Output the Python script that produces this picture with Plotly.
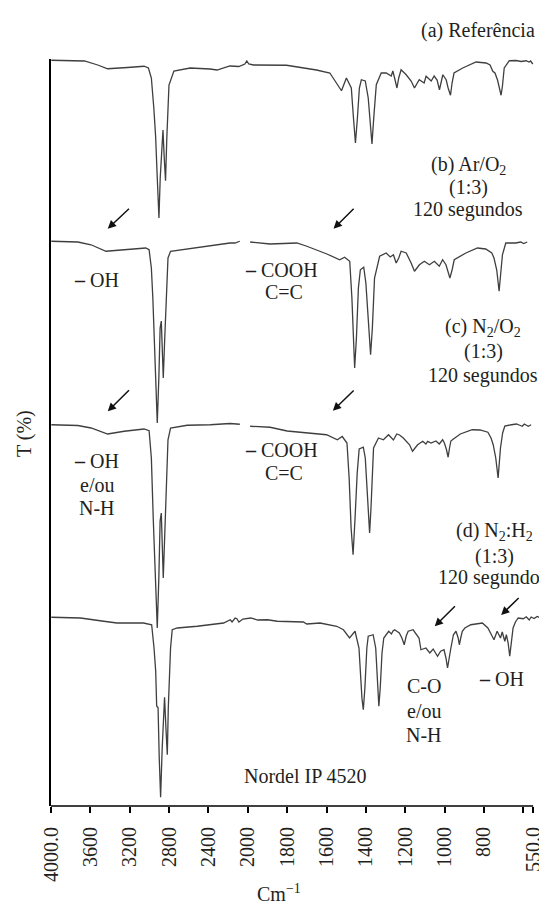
import plotly.graph_objects as go

# ---------------- data (wavenumber in cm-1, transmittance in arbitrary %) ----------------
wn_a = [3997, 3660, 3525, 3424, 3222, 3054, 3010, 2980, 2955, 2937,
        2920, 2903, 2890, 2862, 2849, 2836, 2823, 2813, 2801, 2751,
        2586, 2384, 2313, 2182, 2091, 2030, 2010, 1995, 1971, 1803,
        1735, 1651, 1583, 1549, 1524, 1499, 1474, 1463, 1453, 1443,
        1433, 1423, 1403, 1388, 1378, 1369, 1360, 1347, 1322, 1297,
        1271, 1263, 1254, 1242, 1233, 1221, 1195, 1170, 1153, 1129,
        1104, 1094, 1068, 1053, 1038, 1026, 1009, 992, 982, 970,
        962, 952, 908, 840, 789, 769, 755, 744, 731, 723,
        713, 706, 697, 671, 637, 611, 586, 571, 563, 552]
t_a = [100, 99.7, 98.1, 96.6, 97.1, 97.6, 96.9, 92.9, 80.9, 69.7,
       52.9, 36.9, 52.9, 72.1, 60.9, 51.8, 68.9, 82.9, 90.1, 95.7,
       96.9, 96.5, 96.1, 97.7, 97.5, 98.5, 99.7, 98.5, 98.1, 98,
       97.2, 96.1, 94.9, 90.9, 87.8, 92.9, 88.9, 76.9, 66.9, 76.9,
       88.9, 92.2, 91.7, 84.9, 72.9, 66.5, 76.9, 90.2, 94.9, 94.9,
       93.7, 95.7, 92.9, 88.9, 92.9, 96.2, 94.2, 91.7, 88.9, 92.2,
       90.9, 93.6, 91.7, 93.7, 92.1, 88.2, 94.2, 92.2, 88.9, 86,
       90.9, 94.9, 96.9, 99.3, 98.9, 98.1, 95.6, 94.9, 92.1, 88.9,
       86, 89.7, 96.9, 99.8, 99.9, 99.5, 99.8, 99.3, 99.7, 98.5]

wn_b = [3997, 3727, 3593, 3441, 3256, 3037, 3003, 2980, 2965, 2953,
        2937, 2920, 2904, 2891, 2879, 2869, 2859, 2844, 2829, 2811,
        2785, 2616, 2381, 2246, 2182, 2131, 2081, 2035, 1988, 1887,
        1751, 1700, 1598, 1533, 1508, 1482, 1471, 1463, 1457, 1448,
        1438, 1428, 1411, 1400, 1390, 1376, 1367, 1356, 1330, 1297,
        1276, 1260, 1246, 1233, 1221, 1195, 1170, 1153, 1128, 1103,
        1077, 1052, 1027, 1010, 993, 973, 962, 951, 892, 833,
        791, 760, 749, 735, 723, 715, 706, 689, 639, 613,
        598, 580]
t_b = [100, 99.7, 98.6, 96, 96.6, 97.3, 96.6, 89.3, 77.3, 64.1,
       45.3, 27.3, 45.3, 65.3, 68.1, 57.3, 45.3, 61.3, 77.3, 93.3,
       96, 97, 98.4, 98.9, 99.3, 99.3, 100, None, 99.7, 98.9,
       99.3, 98, 94.9, 92.6, 93.6, 92, 77.3, 61.3, 49.3, 61.3,
       81.3, 88.6, 89.6, 83.3, 69.3, 54.6, 65.3, 85.3, 94, 95.3,
       93.7, 94.6, 91.3, 93.3, 96, 95.3, 91.3, 88, 90.6, 92,
       90.6, 92, 90, 92.6, 90.6, 85.3, 88.5, 92.6, 95.3, 97.3,
       96.9, 95.3, 93.3, 88.5, 80, 87.3, 94.6, 99.3, 99.3, 99.7,
       99.1, 99.7]

wn_c = [3997, 3727, 3593, 3424, 3256, 3054, 3003, 2980, 2960, 2937,
        2920, 2904, 2891, 2879, 2869, 2859, 2844, 2829, 2811, 2785,
        2616, 2381, 2182, 2081, 2035, 1988, 1887, 1800, 1700, 1600,
        1545, 1520, 1496, 1485, 1475, 1465, 1455, 1444, 1434, 1413,
        1403, 1395, 1387, 1381, 1374, 1367, 1361, 1336, 1311, 1285,
        1270, 1260, 1243, 1229, 1210, 1195, 1178, 1163, 1137, 1111,
        1095, 1086, 1069, 1044, 1027, 1010, 1001, 990, 982, 975,
        968, 955, 920, 860, 820, 780, 764, 753, 740, 728,
        716, 705, 694, 660, 635, 615, 605, 595, 575, 560]
t_c = [100, 99.7, 98.7, 96.3, 97.4, 98.3, 97.6, 86.7, 61.5, 38.7,
       18.7, 38.8, 61.6, 64.7, 52, 38.7, 56, 76, 94, 98.7,
       99.8, 100, 100.5, 100.2, None, 99.4, 99, 97.5, 96.8, 96,
       94, 95.3, 92.7, 78.7, 58.7, 48, 62.7, 80.7, 90.3, 91,
       86.7, 74.7, 64.7, 56.7, 66.7, 80.7, 90.7, 94.7, 94, 96,
       94.7, 93.9, 96.3, 95.9, 94.7, 93.5, 92, 89.4, 92, 93.4,
       92.3, 93.4, 92.7, 93.5, 92.3, 94, 92.7, 89.9, 87, 90.7,
       93.5, 94.3, 96.3, 98, 97.9, 97, 94.7, 92, 86.7, 78.7,
       90.7, 96.7, 99.5, 100, 100.3, 99.7, 99.4, 100.3, 99.4, 100]

wn_d = [3997, 3700, 3464, 3330, 3060, 2977, 2953, 2936, 2926, 2912,
        2900, 2886, 2870, 2846, 2832, 2818, 2808, 2795, 2785, 2768,
        2717, 2515, 2246, 2178, 2160, 2128, 2111, 2090, 2050, 1985,
        1950, 1900, 1850, 1718, 1700, 1633, 1548, 1514, 1483, 1455,
        1435, 1420, 1413, 1405, 1395, 1388, 1363, 1350, 1340, 1334,
        1327, 1318, 1309, 1284, 1270, 1262, 1254, 1230, 1217, 1205,
        1195, 1185, 1160, 1130, 1120, 1095, 1075, 1058, 1036, 1020,
        1003, 993, 985, 977, 968, 955, 942, 931, 925, 918,
        910, 897, 867, 808, 780, 762, 749, 733, 716, 707,
        694, 686, 677, 669, 660, 652, 640, 626, 600, 585,
        570, 560, 545, 530, 512]
t_d = [100, 99.7, 98.4, 97.7, 97.7, 97, 87.7, 78.5, 64.5, 63.8,
       43.8, 28, 47.7, 68, 55.7, 45, 63.7, 79.7, 87.7, 95,
       95.7, 96.4, 97.7, 99, 98.1, 99.7, 99.4, 98.1, 99.3, 99.7,
       98.9, 99, 98.4, 98.1, 97.3, 97.7, 96.4, 95, 91.7, 94.4,
       87.7, 67.7, 63, 71.7, 87.7, 92.4, 93, 87.7, 71.7, 64.4,
       71.7, 85.7, 91.7, 94.4, 93.3, 94.5, 95, 93.7, 91.7, 89,
       92.5, 94.4, 95, 91.7, 87, 87.7, 85.7, 87.3, 84.4, 86.4,
       87, 83.7, 79.7, 84.5, 87.7, 93, 94.4, 91.7, 89, 91.7,
       94.4, 95.7, 97, 97.7, 95.7, 93, 91, 94.4, 91.7, 94.1,
       90.4, 93, 89.7, 84.4, 89.7, 95.7, 98.1, 99.7, 99.4, 100.2,
       98.9, 100.1, 99.5, 100.3, 99.7]

tick_wn = [4000, 3600, 3200, 2800, 2400, 2000, 1800, 1600, 1400, 1200, 1000, 800, 600, 550]
tick_txt = ["4000.0", "3600", "3200", "2800", "2400", "2000", "1800", "1600",
            "1400", "1200", "1000", "800", "", "550.0"]

# ---------------- layout constants ----------------
OFFSETS = [198.3, 125.9, 52.5, -24.5]   # vertical stacking of the four spectra
LINE_COLOR = "#3f3f3f"
FONT = "Liberation Serif, Times New Roman, serif"
TXT = "#231f20"
W, H = 547, 906
ML, MR, MT, MB = 43, 11, 51, 108
PLOT_W = W - ML - MR
PLOT_H = H - MT - MB


def wn_pos(w):
    """Broken wavenumber scale: 400 cm-1 per division above 2000, 200 below."""
    return (4000 - w) / 400 if w >= 2000 else 5 + (2000 - w) / 200


def fx(px):
    return (px - ML) / PLOT_W


def fy(py):
    return (MT + PLOT_H - py) / PLOT_H


fig = go.Figure()
for wn, t, off in zip([wn_a, wn_b, wn_c, wn_d], [t_a, t_b, t_c, t_d], OFFSETS):
    fig.add_trace(go.Scatter(
        x=[wn_pos(w) for w in wn],
        y=[None if v is None else v + off for v in t],
        mode="lines", line=dict(color=LINE_COLOR, width=1.3),
        connectgaps=False, showlegend=False, hoverinfo="skip"))

annotations = []
labels = [
    ("(a) Referência", 471.7, 22.7),
    ("(b) Ar/O<sub>2</sub>", 461.7, 157),
    ("(1:3)", 461.7, 179.5),
    ("120 segundos", 461.7, 201.5),
    ("(c) N<sub>2</sub>/O<sub>2</sub>", 477, 319.5),
    ("(1:3)", 477, 343),
    ("120 segundos", 477, 367),
    ("(d) N<sub>2</sub>:H<sub>2</sub>", 488, 523.5),
    ("(1:3)", 488, 548),
    ("120 segundos", 487, 569.5),
    ("<b>–</b> OH", 89, 271.7),
    ("<b>–</b> COOH", 274, 262),
    ("C=C", 277, 284),
    ("<b>–</b> OH", 89, 452.7),
    ("e/ou", 89.3, 476.7),
    ("N-H", 89.3, 500),
    ("<b>–</b> COOH", 274, 442),
    ("C=C", 277, 465),
    ("C-O", 418, 678.3),
    ("e/ou", 418, 703.3),
    ("N-H", 418, 726.7),
    ("<b>–</b> OH", 495.5, 670.7),
    ("Nordel IP 4520", 298.5, 768),
]
for txt, px, py in labels:
    annotations.append(dict(text=txt, x=fx(px), y=fy(py), xref="paper", yref="paper",
                            xanchor="center", yanchor="middle", showarrow=False,
                            font=dict(family=FONT, size=20, color=TXT)))

arrows = [  # tail x, tail y, head x, head y (pixels)
    (122.7, 199.3, 100, 220.7),
    (348.3, 199.3, 326.7, 220.7),
    (122.7, 380.7, 100, 403.3),
    (348.3, 381, 326, 402.7),
    (450, 596.7, 428.3, 618.3),
    (514, 588.5, 495, 607),
]
for tx, ty, hx, hy in arrows:
    annotations.append(dict(text="", x=fx(hx), y=fy(hy), xref="paper", yref="paper",
                            ax=tx - hx, ay=ty - hy, axref="pixel", ayref="pixel",
                            showarrow=True, arrowhead=2, arrowsize=1.1, arrowwidth=1.5,
                            arrowcolor="#111111", standoff=0, startstandoff=0))

annotations.append(dict(text="Cm<sup>−1</sup>", x=fx(272), y=fy(885), xref="paper", yref="paper",
                        xanchor="center", yanchor="middle", showarrow=False,
                        font=dict(family=FONT, size=20, color=TXT)))
annotations.append(dict(text="T (%)", x=fx(16), y=fy(426), xref="paper", yref="paper",
                        xanchor="center", yanchor="middle", showarrow=False, textangle=-90,
                        font=dict(family=FONT, size=20, color=TXT)))

fig.update_layout(
    width=W, height=H,
    margin=dict(l=ML, r=MR, t=MT, b=MB),
    paper_bgcolor="white", plot_bgcolor="white",
    annotations=annotations,
    shapes=[dict(type="line", xref="x", yref="paper", x0=wn_pos(4000), x1=wn_pos(550),
                 y0=0, y1=0, line=dict(color="black", width=1.5))],
    xaxis=dict(range=[wn_pos(4000), wn_pos(505)], showline=False, showgrid=False,
               zeroline=False, ticks="outside", ticklen=6, tickwidth=1.5, tickcolor="black",
               tickvals=[wn_pos(w) for w in tick_wn], ticktext=tick_txt, tickangle=-90,
               ticklabelstandoff=6,
               tickfont=dict(family=FONT, size=20, color=TXT)),
    yaxis=dict(range=[0, 298.8], showline=True, linecolor="black", linewidth=1.5,
               showgrid=False, zeroline=False, showticklabels=False, ticks=""),
)

fig.write_html("out.html")
